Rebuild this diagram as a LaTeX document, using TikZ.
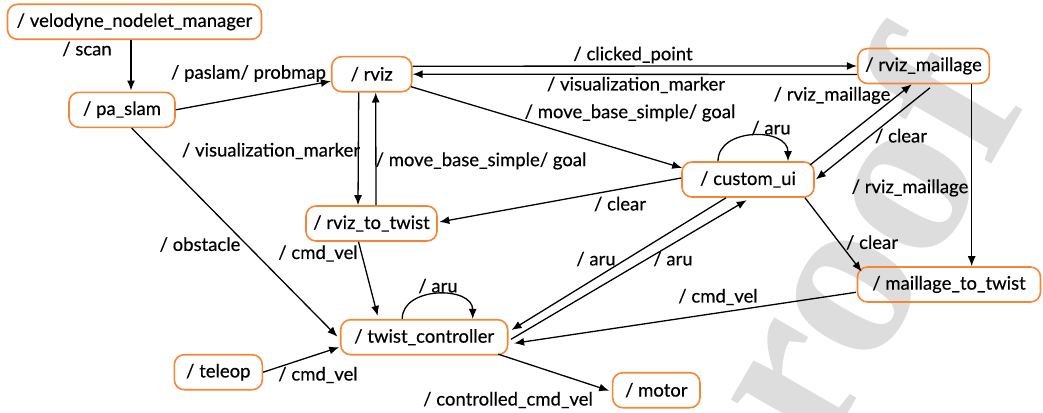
\documentclass[tikz,border=0pt]{standalone}
\usepackage{fontspec}
\setmainfont{Lato}[FakeBold=0.4]
\newfontfamily\wmfont{Liberation Serif}
\usetikzlibrary{arrows.meta}
\definecolor{nodeorange}{RGB}{246,134,52}
\definecolor{wmgray}{RGB}{221,221,221}
\begin{document}
\begin{tikzpicture}[x=1pt,y=-1pt,
  rosnode/.style={draw=nodeorange, line width=1.6pt, rounded corners=10pt,
    minimum height=35pt, inner sep=0pt, font=\fontsize{18.5}{20}\selectfont},
  edge/.style={line width=1.3pt, -{Latex[length=10pt,width=8pt]}},
  lbl/.style={font=\fontsize{18.5}{20}\selectfont, inner sep=0pt},
  wm/.style={text=wmgray, font=\wmfont\bfseries\fontsize{235}{235}\selectfont, inner sep=0pt}]
\useasboundingbox (0,0) rectangle (1043,412);
\begin{scope}
\clip (0,0) rectangle (1043,412);
\node[wm, rotate=60, anchor=base west] (wmark) at (821,460) {roof};
\end{scope}
% nodes
\node[rosnode, minimum width=254pt] (velo) at (134.5,21.8) {/ velodyne\_nodelet\_manager};
\node[rosnode, minimum width=106pt] (paslam) at (122,109.8) {/ pa\_slam};
\node[rosnode, minimum width=80pt] (rviz) at (371.7,74.2) {/ rviz};
\node[rosnode, minimum width=131.6pt] (rvizm) at (923.5,66) {/ rviz\_maillage};
\node[rosnode, minimum width=132pt] (cui) at (748,179.5) {/ custom\_ui};
\node[rosnode, minimum width=131pt] (r2t) at (371.5,223.5) {/ rviz\_to\_twist};
\node[rosnode, minimum width=183pt] (m2t) at (949,284.5) {/ maillage\_to\_twist};
\node[rosnode, minimum width=167pt] (tc) at (424.2,337.2) {/ twist\_controller};
\node[rosnode, minimum width=88pt] (teleop) at (218.3,372.2) {/ teleop};
\node[rosnode, minimum width=87.3pt] (motor) at (656.3,390.2) {/ motor};
% edges
\draw[edge] ([shift={(-3.5,0)}]velo.south) -- ([shift={(9,-1)}]paslam.north);
\draw[edge] (paslam.east) -- ([shift={(0,7)}]rviz.west);
\draw[edge] ([shift={(0,-8)}]rviz.east) -- (rvizm.west);
\draw[edge] ([shift={(0,8.5)}]rvizm.west) -- (rviz.east);
\draw[edge] ([shift={(-1.5,12.5)}]rviz.east) -- ([shift={(1,-11.5)}]cui.west);
\draw[edge] ([shift={(-13,0)}]rviz.south) -- ([shift={(-13.5,0)}]r2t.north);
\draw[edge] ([shift={(4.5,0)}]r2t.north) -- ([shift={(4,0)}]rviz.south);
\draw[edge] ([shift={(0,-1.5)}]cui.west) -- ([shift={(1.5,-1.5)}]r2t.east);
\draw[edge] ([shift={(-30,0)}]cui.north) .. controls +(0,-34) and +(0,-34) .. ([shift={(40,0)}]cui.north);
\draw[edge] ([shift={(62,-14.5)}]cui.center) -- ([shift={(-11.8,0)}]rvizm.south);
\draw[edge] ([shift={(6.5,3.5)}]rvizm.south) -- ([shift={(1,0)}]cui.east);
\draw[edge] ([shift={(48.2,0)}]rvizm.south) -- ([shift={(22.7,0)}]m2t.north);
\draw[edge] ([shift={(57,0)}]cui.south) -- ([shift={(-87.3,-12.8)}]m2t.center);
\draw[edge] ([shift={(-22,0)}]cui.south) -- ([shift={(3,-7.2)}]tc.east);
\draw[edge] ([shift={(2.5,2.1)}]tc.east) -- ([shift={(-1.3,2.4)}]cui.south);
\draw[edge] ([shift={(-0.8,7.8)}]m2t.west) -- ([shift={(5.6,6.1)}]tc.east);
\draw[edge] ([shift={(9.7,0)}]paslam.south) -- ([shift={(-2.5,-0.5)}]tc.west);
\draw[edge] ([shift={(-13,0)}]r2t.south) -- ([shift={(-46.5,-3)}]tc.north);
\draw[edge] ([shift={(-22,0)}]tc.north) .. controls +(0,-33) and +(0,-33) .. ([shift={(48.5,0)}]tc.north);
\draw[edge] (teleop.east) -- ([shift={(-0.7,10)}]tc.west);
\draw[edge] ([shift={(74,17)}]tc.center) -- ([shift={(-2.7,0.5)}]motor.west);
% labels
\node[lbl] (l1) at (87,49) {/ scan};
\node[lbl] (l2) at (248.5,73.5) {/ paslam/ probmap};
\node[lbl] (l3) at (633,55) {/ clicked\_point};
\node[lbl] (l4) at (636,85) {/ visualization\_marker};
\node[lbl] (l5) at (630,113) {/ move\_base\_simple/ goal};
\node[lbl] (l6) at (271,151) {/ visualization\_marker};
\node[lbl] (l7) at (481,161) {/ move\_base\_simple/ goal};
\node[lbl] (l8) at (620,204) {/ clear};
\node[lbl] (l9) at (771,128) {/ aru};
\node[lbl] (l10) at (832,95.5) {/ rviz\_maillage};
\node[lbl] (l11) at (901,136) {/ clear};
\node[lbl] (l12) at (910,188) {/ rviz\_maillage};
\node[lbl] (l13) at (872,242.5) {/ clear};
\node[lbl] (l14) at (596,259) {/ aru};
\node[lbl] (l15) at (673,259) {/ aru};
\node[lbl] (l16) at (718,297) {/ cmd\_vel};
\node[lbl] (l17) at (200,244.5) {/ obstacle};
\node[lbl] (l18) at (318,253.5) {/ cmd\_vel};
\node[lbl] (l19) at (438,286) {/ aru};
\node[lbl] (l20) at (318,375) {/ cmd\_vel};
\node[lbl] (l21) at (508,400) {/ controlled\_cmd\_vel};
\end{tikzpicture}
\end{document}
